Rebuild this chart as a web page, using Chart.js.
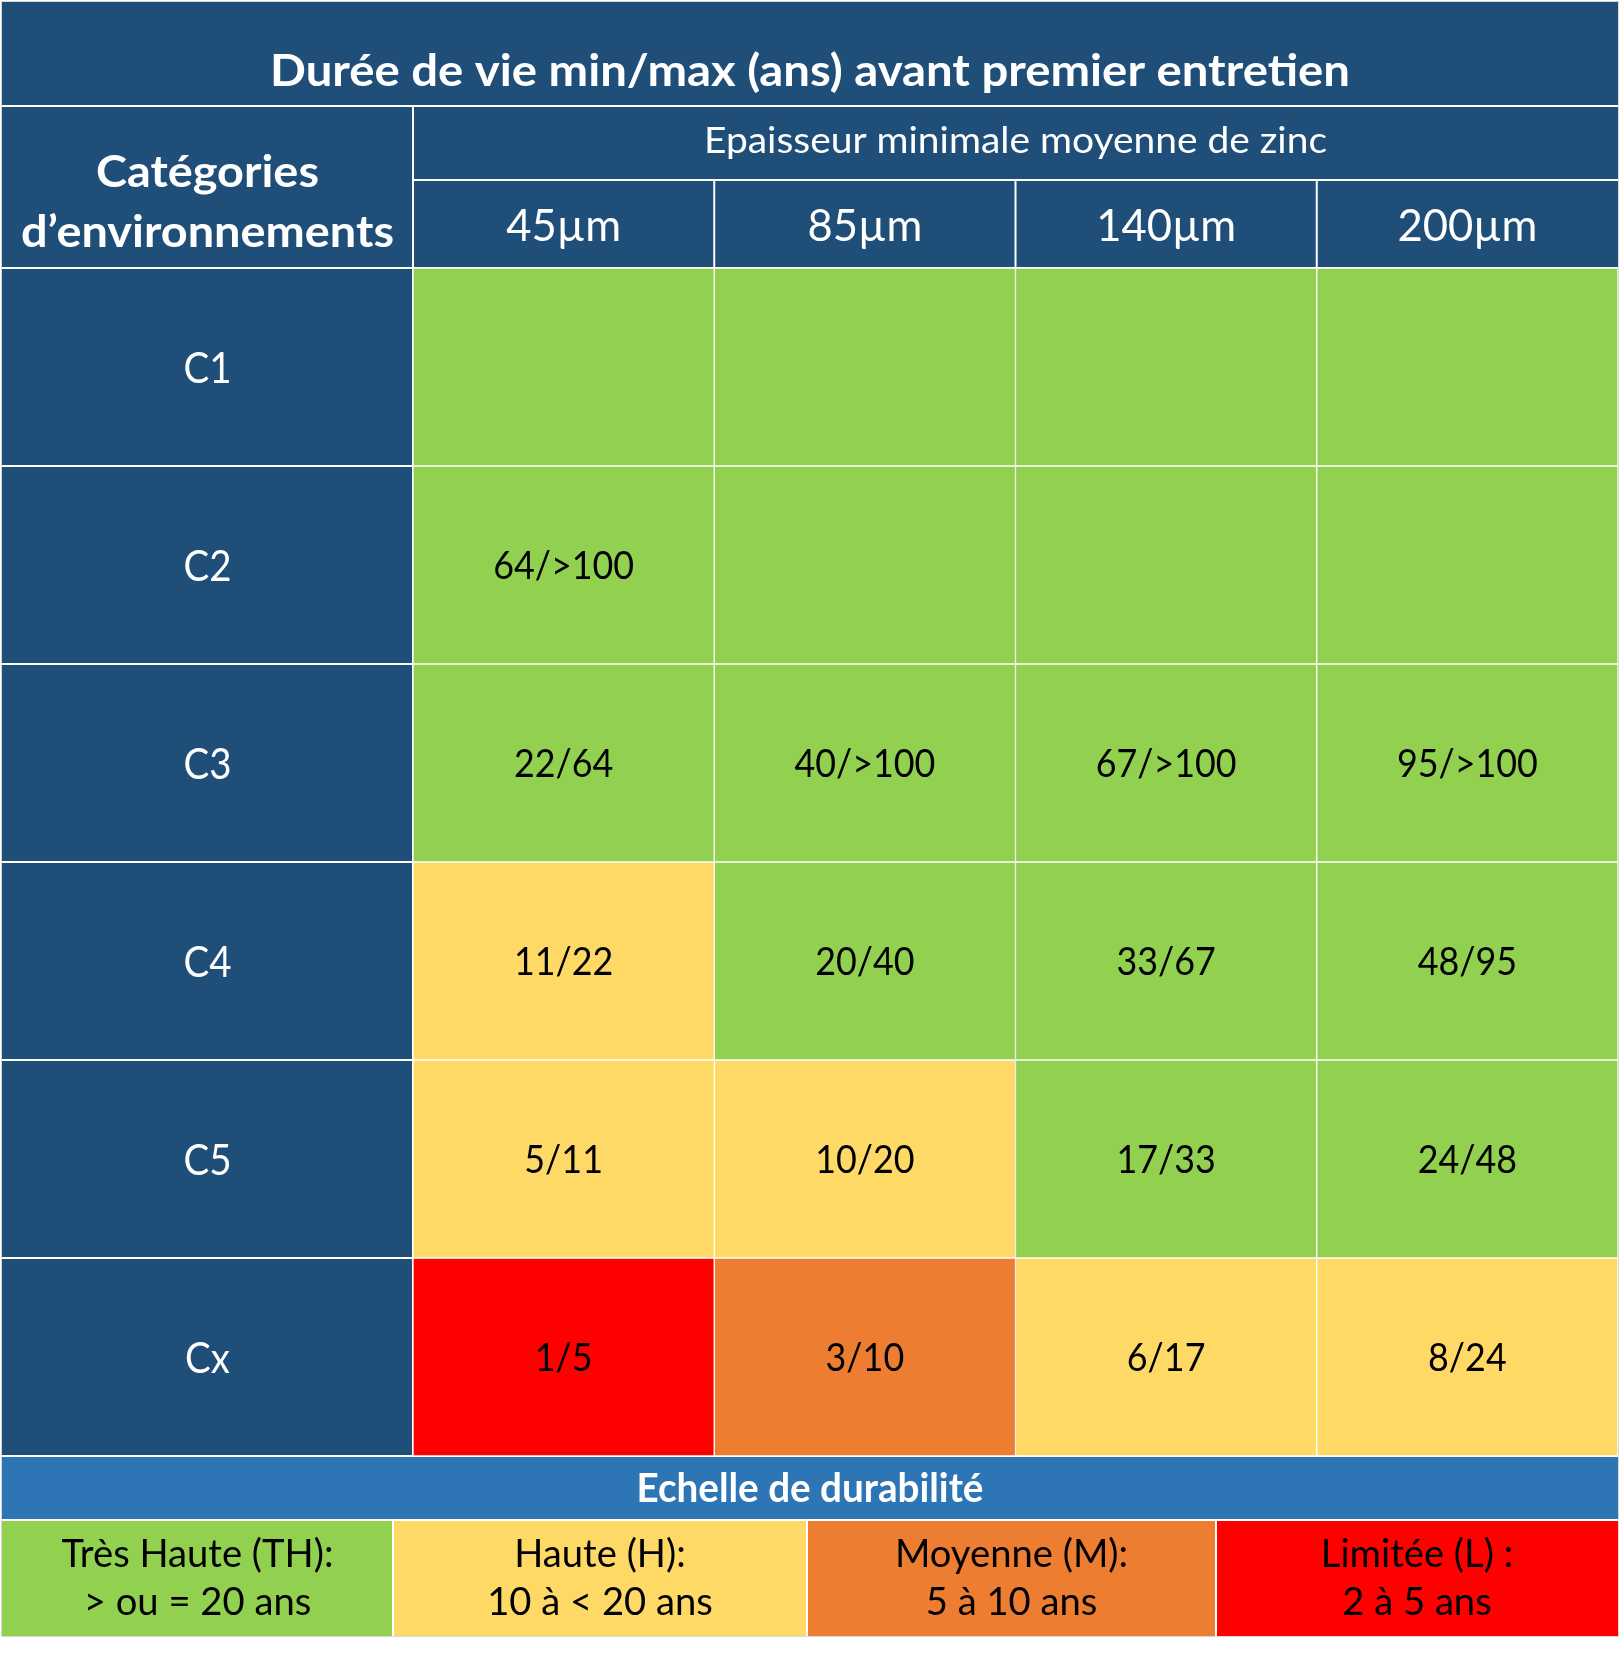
<!DOCTYPE html>
<html>
<head>
<meta charset="utf-8">
<script src="https://cdn.jsdelivr.net/npm/chart.js@4.4.1/dist/chart.umd.min.js"></script>
<style>
  html, body { margin: 0; padding: 0; background: #ffffff; }
  canvas { display: block; }
</style>
</head>
<body>
<canvas id="c" width="1621" height="1653"></canvas>
<script>
// ---------------- DATA ----------------
const title = 'Durée de vie min/max (ans) avant premier entretien';
const rowHeaderLines = ['Catégories', 'd’environnements'];
const columnGroupTitle = 'Epaisseur minimale moyenne de zinc';
const thicknesses = ['45µm', '85µm', '140µm', '200µm'];
const categories = ['C1', 'C2', 'C3', 'C4', 'C5', 'Cx'];

// min/max life (years) per category, one entry per thickness
const lifeC1 = ['', '', '', ''];
const lifeC2 = ['64/>100', '', '', ''];
const lifeC3 = ['22/64', '40/>100', '67/>100', '95/>100'];
const lifeC4 = ['11/22', '20/40', '33/67', '48/95'];
const lifeC5 = ['5/11', '10/20', '17/33', '24/48'];
const lifeCx = ['1/5', '3/10', '6/17', '8/24'];

// durability class per category, one entry per thickness
const classC1 = ['TH', 'TH', 'TH', 'TH'];
const classC2 = ['TH', 'TH', 'TH', 'TH'];
const classC3 = ['TH', 'TH', 'TH', 'TH'];
const classC4 = ['H', 'TH', 'TH', 'TH'];
const classC5 = ['H', 'H', 'TH', 'TH'];
const classCx = ['L', 'M', 'H', 'H'];

const scaleTitle = 'Echelle de durabilité';
const scaleClasses = ['TH', 'H', 'M', 'L'];
const scaleNames = ['Très Haute (TH):', 'Haute (H):', 'Moyenne (M):', 'Limitée (L) :'];
const scaleRanges = ['> ou = 20 ans', '10 à < 20 ans', '5 à 10 ans', '2 à 5 ans'];

// ---------------- STYLE ----------------
const lifeRows = [lifeC1, lifeC2, lifeC3, lifeC4, lifeC5, lifeCx];
const classRows = [classC1, classC2, classC3, classC4, classC5, classCx];
const classColor = { TH: '#92D050', H: '#FFD966', M: '#ED7D31', L: '#FF0000' };
const NAVY = '#1F4E79';
const BLUE = '#2E75B6';
const FONT = 'Lato, "Open Sans", sans-serif';

const L = {
  left: 2, right: 1618, top: 2,
  titleBottom: 106, groupBottom: 180, headBottom: 268,
  tableBottom: 1456, scaleBottom: 1520, legendBottom: 1636,
  legendEdges: [2, 393, 807, 1216, 1618]
};

function drawText(ctx, s, cx, base, size, weight, color, sx) {
  ctx.save();
  ctx.font = weight + ' ' + size + 'px ' + FONT;
  ctx.fillStyle = color;
  ctx.textAlign = 'center';
  ctx.textBaseline = 'alphabetic';
  ctx.translate(cx, base);
  ctx.scale(sx, 1);
  ctx.fillText(s, 0, 0);
  ctx.restore();
}
function fitFactor(ctx, sample, size, weight, target) {
  ctx.save();
  ctx.font = weight + ' ' + size + 'px ' + FONT;
  const w = ctx.measureText(sample).width;
  ctx.restore();
  return Math.min(1.15, target / w);
}
function line(ctx, x1, y1, x2, y2) {
  ctx.beginPath(); ctx.moveTo(x1, y1); ctx.lineTo(x2, y2); ctx.stroke();
}

const tablePlugin = {
  id: 'tableFrame',
  beforeDraw(chart) {
    const ctx = chart.ctx;
    const xs = chart.scales.x, ys = chart.scales.y;
    const ca = chart.chartArea;
    ctx.save();
    ctx.fillStyle = '#ffffff';
    ctx.fillRect(0, 0, chart.width, chart.height);
    // header + category column background
    ctx.fillStyle = NAVY;
    ctx.fillRect(L.left, L.top, L.right - L.left, L.tableBottom - L.top);
    // durability scale title band
    ctx.fillStyle = BLUE;
    ctx.fillRect(L.left, L.tableBottom, L.right - L.left, L.scaleBottom - L.tableBottom);
    // legend cells
    scaleClasses.forEach((c, i) => {
      ctx.fillStyle = classColor[c];
      ctx.fillRect(L.legendEdges[i], L.scaleBottom, L.legendEdges[i + 1] - L.legendEdges[i], L.legendBottom - L.scaleBottom);
    });
    // white rules
    ctx.strokeStyle = '#ffffff';
    ctx.lineWidth = 2;
    line(ctx, L.left, L.titleBottom, L.right, L.titleBottom);
    line(ctx, ca.left, L.titleBottom, ca.left, L.tableBottom);
    line(ctx, ca.left, L.groupBottom, L.right, L.groupBottom);
    line(ctx, L.left, L.headBottom, L.right, L.headBottom);
    for (let j = 1; j < thicknesses.length; j++) {
      const xb = (xs.getPixelForValue(j - 1) + xs.getPixelForValue(j)) / 2;
      line(ctx, xb, L.groupBottom, xb, L.headBottom);
    }
    for (let i = 1; i <= categories.length; i++) {
      const yb = ys.getPixelForValue(i);
      line(ctx, L.left, yb, ca.left, yb);
    }
    line(ctx, L.left, L.tableBottom, L.right, L.tableBottom);
    line(ctx, L.left, L.scaleBottom, L.right, L.scaleBottom);
    for (let i = 1; i < L.legendEdges.length - 1; i++) {
      line(ctx, L.legendEdges[i], L.scaleBottom, L.legendEdges[i], L.legendBottom);
    }
    // faint outer frame
    ctx.strokeStyle = '#d9d9d9';
    ctx.lineWidth = 1;
    ctx.strokeRect(L.left - 0.5, L.top - 0.5, L.right - L.left + 1, L.legendBottom - L.top + 1);
    ctx.restore();
  },
  afterDraw(chart) {
    const ctx = chart.ctx;
    const xs = chart.scales.x, ys = chart.scales.y;
    const ca = chart.chartArea;
    const midTable = (L.left + L.right) / 2;
    const midCat = (L.left + ca.left) / 2;
    const midCols = (ca.left + ca.right) / 2;

    // title
    let f = fitFactor(ctx, title, 43, 'bold', 1080);
    drawText(ctx, title, midTable, 86, 43, 'bold', '#ffffff', f);
    // row header
    f = fitFactor(ctx, rowHeaderLines[1], 43, 'bold', 373);
    drawText(ctx, rowHeaderLines[0], midCat, 187, 43, 'bold', '#ffffff', f);
    drawText(ctx, rowHeaderLines[1], midCat, 247, 43, 'bold', '#ffffff', f);
    // column group title
    f = fitFactor(ctx, columnGroupTitle, 36, 'normal', 623);
    drawText(ctx, columnGroupTitle, midCols, 153, 36, 'normal', '#ffffff', f);
    // thickness labels
    f = fitFactor(ctx, thicknesses[2], 45, 'normal', 140);
    thicknesses.forEach((t, j) => {
      drawText(ctx, t, xs.getPixelForValue(j), 241, 45, 'normal', '#ffffff', f);
    });
    // category labels
    f = fitFactor(ctx, 'C1', 43, 'normal', 48);
    categories.forEach((c, i) => {
      const yc = ys.getPixelForValue(i + 0.5);
      drawText(ctx, c, midCat, yc + 15.5, 43, 'normal', '#ffffff', f);
    });
    // cell values, placed on the bar elements
    f = fitFactor(ctx, '64/>100', 38, 'normal', 141);
    chart.data.datasets.forEach((ds, i) => {
      const meta = chart.getDatasetMeta(i);
      meta.data.forEach((el, j) => {
        const s = lifeRows[i][j];
        if (!s) return;
        const yc = (el.y + el.base) / 2;
        drawText(ctx, s, el.x, yc + 13.5, 38, 'normal', '#000000', f);
      });
    });
    // durability scale
    f = fitFactor(ctx, scaleTitle, 40, 'bold', 347);
    drawText(ctx, scaleTitle, midTable, 1502, 40, 'bold', '#ffffff', f);
    f = fitFactor(ctx, scaleNames[0], 38, 'normal', 272);
    scaleClasses.forEach((c, i) => {
      const cx = (L.legendEdges[i] + L.legendEdges[i + 1]) / 2;
      drawText(ctx, scaleNames[i], cx, 1567, 38, 'normal', '#000000', f);
      drawText(ctx, scaleRanges[i], cx, 1615, 38, 'normal', '#000000', f);
    });
  }
};

const datasets = categories.map((c, i) => ({
  label: c,
  data: thicknesses.map(() => 1),
  backgroundColor: classRows[i].map(k => classColor[k]),
  borderColor: '#ffffff',
  borderWidth: 1,
  borderSkipped: false,
  barPercentage: 1,
  categoryPercentage: 1
}));

new Chart(document.getElementById('c'), {
  type: 'bar',
  data: { labels: thicknesses, datasets },
  options: {
    responsive: false,
    animation: false,
    devicePixelRatio: 1,
    layout: { padding: { left: 413, top: 268, right: 3, bottom: 197 } },
    scales: {
      x: { type: 'category', stacked: true, display: false, offset: true },
      y: { type: 'linear', stacked: true, display: false, min: 0, max: categories.length, reverse: true }
    },
    plugins: {
      legend: { display: false },
      tooltip: { enabled: false },
      title: { display: false }
    }
  },
  plugins: [tablePlugin]
});
</script>
</body>
</html>
